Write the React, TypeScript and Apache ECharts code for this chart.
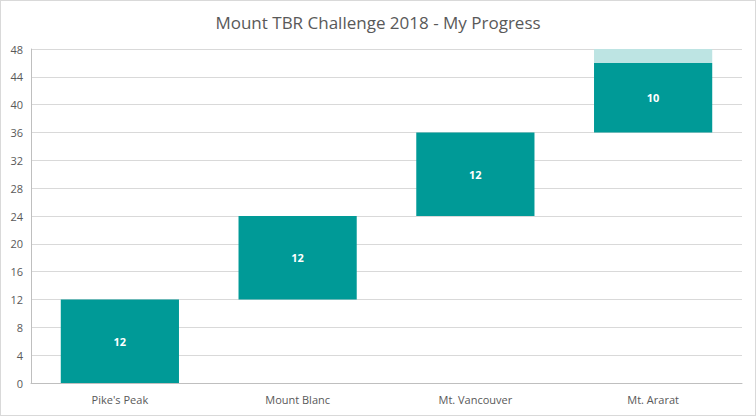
import React, { useEffect, useRef } from "react";
import * as echarts from "echarts";

const categories = ["Pike's Peak", "Mount Blanc", "Mt. Vancouver", "Mt. Ararat"];
const booksRead = [12, 12, 12, 10];
const remaining = [0, 0, 0, 2];
const yTicks = { min: 0, max: 48, interval: 4 };
const titleText = "Mount TBR Challenge 2018 - My Progress";

export default function App() {
  const ref = useRef<HTMLDivElement>(null);
  useEffect(() => {
    document.body.style.margin = "0";
    const chart = echarts.init(ref.current!, null, { renderer: "svg" });
    const base: number[] = [];
    let acc = 0;
    booksRead.forEach((v) => {
      base.push(acc);
      acc += v;
    });
    const font = "Open Sans, Liberation Sans, sans-serif";
    chart.setOption({
      animation: false,
      backgroundColor: "transparent",
      title: {
        text: titleText,
        left: "center",
        top: 9,
        textStyle: { fontFamily: font, fontSize: 17, fontWeight: "normal", color: "#595959" },
      },
      grid: { left: 31, right: 14, top: 49, bottom: 33 },
      xAxis: {
        type: "category",
        data: categories,
        axisLine: { show: true, lineStyle: { color: "#bfbfbf", width: 1 } },
        axisTick: { show: false },
        axisLabel: { color: "#595959", fontFamily: font, fontSize: 11, margin: 11 },
      },
      yAxis: {
        type: "value",
        min: yTicks.min,
        max: yTicks.max,
        interval: yTicks.interval,
        axisLine: { show: true, lineStyle: { color: "#bfbfbf", width: 1 } },
        axisTick: { show: false },
        splitLine: { lineStyle: { color: "#d9d9d9", width: 1 } },
        axisLabel: { color: "#595959", fontFamily: font, fontSize: 11, margin: 8 },
      },
      series: [
        {
          type: "bar",
          stack: "w",
          data: base,
          itemStyle: { color: "transparent" },
          barCategoryGap: "33.5%",
          silent: true,
        },
        {
          type: "bar",
          stack: "w",
          data: booksRead,
          itemStyle: { color: "#009a97" },
          label: {
            show: true,
            position: "inside",
            color: "#ffffff",
            fontFamily: font,
            fontSize: 11,
            fontWeight: "bold",
          },
        },
        {
          type: "bar",
          stack: "w",
          data: remaining,
          itemStyle: { color: "#bde4e3" },
        },
      ],
    });
    return () => chart.dispose();
  }, []);
  return (
    <div
      style={{
        position: "relative",
        width: 756,
        height: 416,
        boxSizing: "border-box",
        border: "1px solid #d9d9d9",
        background: "#ffffff",
      }}
    >
      <div ref={ref} style={{ position: "absolute", left: -1, top: -1, width: 756, height: 416 }} />
    </div>
  );
}
